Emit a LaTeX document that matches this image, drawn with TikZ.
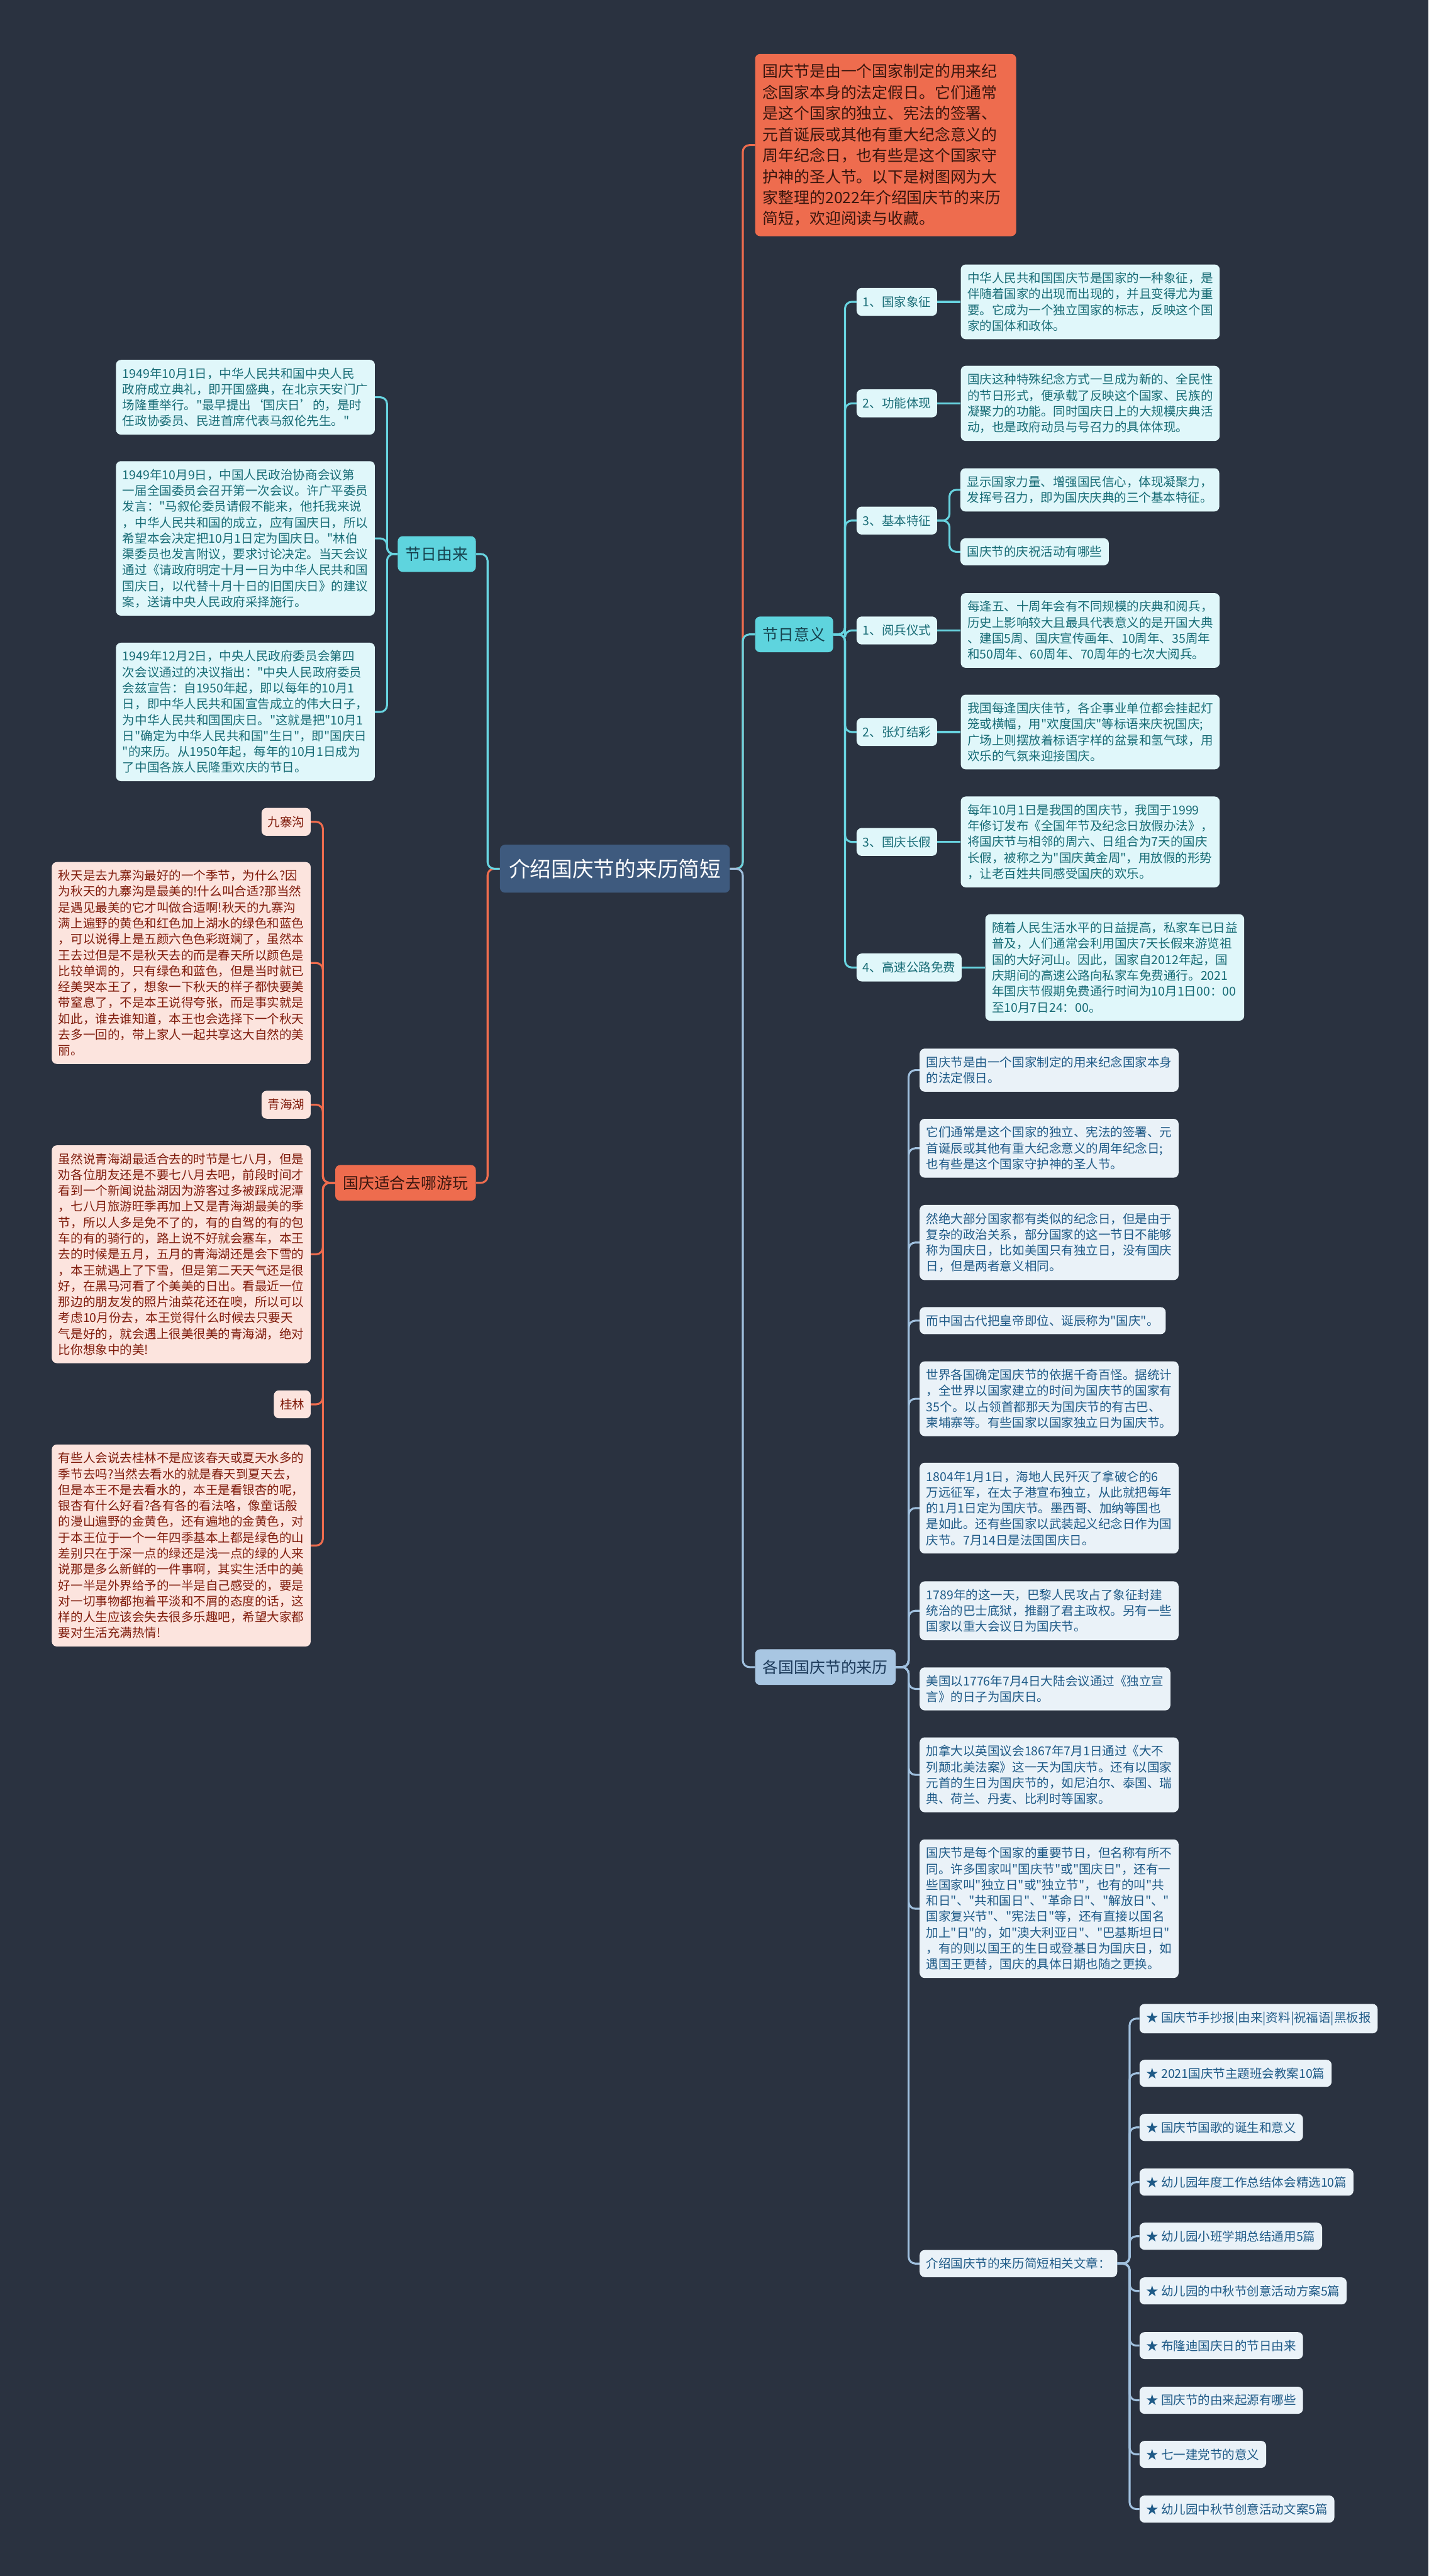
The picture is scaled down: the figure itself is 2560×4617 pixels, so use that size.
\documentclass[tikz,border=0pt]{standalone}
\usepackage{fontspec}
\setmainfont{Noto Sans CJK SC}[Ligatures=TeXOff]
\usetikzlibrary{positioning}
\definecolor{bgdark}{RGB}{42,50,64}
\definecolor{rootblue}{RGB}{62,90,126}
\definecolor{coral}{RGB}{238,108,78}
\definecolor{coraltext}{RGB}{58,22,14}
\definecolor{pinkbox}{RGB}{252,228,222}
\definecolor{pinktext}{RGB}{128,28,12}
\definecolor{cyanmain}{RGB}{94,212,222}
\definecolor{cyanline}{RGB}{104,212,224}
\definecolor{cyanbox}{RGB}{224,247,250}
\definecolor{cyantext}{RGB}{24,108,118}
\definecolor{cyandark}{RGB}{22,66,78}
\definecolor{bluemain}{RGB}{168,198,226}
\definecolor{blueline}{RGB}{160,192,222}
\definecolor{bluebox}{RGB}{234,242,248}
\definecolor{bluetext}{RGB}{30,90,135}
\definecolor{bluedark}{RGB}{28,58,90}

\begin{document}
\begin{tikzpicture}[x=1pt,y=-1pt,every node/.style={font=\fontsize{22}{28.5}\selectfont}]
\tikzstyle{box}=[rounded corners=9pt,align=left,inner xsep=12pt,inner ysep=14pt]
\tikzstyle{tag}=[rounded corners=9pt,minimum height=50pt,inner xsep=11pt,inner ysep=0pt]
\tikzstyle{topic}=[rounded corners=9pt,minimum height=64pt,inner xsep=14pt,inner ysep=0pt,font=\fontsize{28}{34}\selectfont]
\tikzstyle{cbox}=[box,fill=cyanbox,text=cyantext]
\tikzstyle{ctag}=[tag,fill=cyanbox,text=cyantext]
\tikzstyle{pbox}=[box,fill=pinkbox,text=pinktext]
\tikzstyle{ptag}=[tag,fill=pinkbox,text=pinktext]
\tikzstyle{bbox}=[box,fill=bluebox,text=bluetext]
\tikzstyle{cyanlink}=[draw=cyanline,line width=3.5pt,rounded corners=12pt]
\tikzstyle{corallink}=[draw=coral,line width=3.5pt,rounded corners=12pt]
\tikzstyle{bluelink}=[draw=blueline,line width=3.5pt,rounded corners=12pt]

\fill[bgdark] (0,0) rectangle (2560,4617);
\useasboundingbox (0,0) rectangle (2560,4617);

\node[fill=rootblue,text=white,rounded corners=9pt,minimum height=86pt,inner xsep=16pt,font=\fontsize{38}{44}\selectfont] (root) at (1102,1557) {介绍国庆节的来历简短};

\node[box,fill=coral,text=coraltext,anchor=west,text width=440pt,inner xsep=14pt,inner ysep=18pt,font=\fontsize{28}{37.7}\selectfont] (intro) at (1353,260) {国庆节是由一个国家制定的用来纪\\念国家本身的法定假日。它们通常\\是这个国家的独立、宪法的签署、\\元首诞辰或其他有重大纪念意义的\\周年纪念日，也有些是这个国家守\\护神的圣人节。以下是树图网为大\\家整理的2022年介绍国庆节的来历\\简短，欢迎阅读与收藏。};

\node[topic,fill=cyanmain,text=cyandark,anchor=west] (yiyi) at (1353,1137) {节日意义};
\node[topic,fill=bluemain,text=bluedark,anchor=west] (gege) at (1353,2988) {各国国庆节的来历};
\node[topic,fill=cyanmain,text=cyandark,anchor=east] (youlai) at (853,993) {节日由来};
\node[topic,fill=coral,text=coraltext,anchor=east] (youwan) at (853,2120) {国庆适合去哪游玩};

\node[ctag,anchor=west] (xz) at (1535,541) {1、国家象征};
\node[cbox,right=42pt of xz] (xzt) {中华人民共和国国庆节是国家的一种象征，是\\伴随着国家的出现而出现的，并且变得尤为重\\要。它成为一个独立国家的标志，反映这个国\\家的国体和政体。};
\node[ctag,anchor=west] (gn) at (1535,723) {2、功能体现};
\node[cbox,right=42pt of gn] (gnt) {国庆这种特殊纪念方式一旦成为新的、全民性\\的节日形式，便承载了反映这个国家、民族的\\凝聚力的功能。同时国庆日上的大规模庆典活\\动，也是政府动员与号召力的具体体现。};
\node[ctag,anchor=west] (tz) at (1535,933) {3、基本特征};
\node[cbox,anchor=west] (tza) at (1721,878) {显示国家力量、增强国民信心，体现凝聚力，\\发挥号召力，即为国庆庆典的三个基本特征。};
\node[cbox,anchor=west] (tzb) at (1721,989) {国庆节的庆祝活动有哪些};
\node[ctag,anchor=west] (yb) at (1535,1130) {1、阅兵仪式};
\node[cbox,right=42pt of yb] (ybt) {每逢五、十周年会有不同规模的庆典和阅兵，\\历史上影响较大且最具代表意义的是开国大典\\、建国5周、国庆宣传画年、10周年、35周年\\和50周年、60周年、70周年的七次大阅兵。};
\node[ctag,anchor=west] (zd) at (1535,1312) {2、张灯结彩};
\node[cbox,right=42pt of zd] (zdt) {我国每逢国庆佳节，各企事业单位都会挂起灯\\笼或横幅，用"欢度国庆"等标语来庆祝国庆;\\广场上则摆放着标语字样的盆景和氢气球，用\\欢乐的气氛来迎接国庆。};
\node[ctag,anchor=west] (cj) at (1535,1509) {3、国庆长假};
\node[cbox,right=42pt of cj] (cjt) {每年10月1日是我国的国庆节，我国于1999\\年修订发布《全国年节及纪念日放假办法》，\\将国庆节与相邻的周六、日组合为7天的国庆\\长假，被称之为"国庆黄金周"，用放假的形势\\，让老百姓共同感受国庆的欢乐。};
\node[ctag,anchor=west] (gs) at (1535,1734) {4、高速公路免费};
\node[cbox,right=42pt of gs] (gst) {随着人民生活水平的日益提高，私家车已日益\\普及，人们通常会利用国庆7天长假来游览祖\\国的大好河山。因此，国家自2012年起，国\\庆期间的高速公路向私家车免费通行。2021\\年国庆节假期免费通行时间为10月1日00：00\\至10月7日24：00。};

\node[cbox,anchor=east] (ly1) at (672,712) {1949年10月1日，中华人民共和国中央人民\\政府成立典礼，即开国盛典，在北京天安门广\\场隆重举行。"最早提出‘国庆日’的，是时\\任政协委员、民进首席代表马叙伦先生。"};
\node[cbox,anchor=east] (ly2) at (672,965) {1949年10月9日，中国人民政治协商会议第\\一届全国委员会召开第一次会议。许广平委员\\发言："马叙伦委员请假不能来，他托我来说\\，中华人民共和国的成立，应有国庆日，所以\\希望本会决定把10月1日定为国庆日。"林伯\\渠委员也发言附议，要求讨论决定。当天会议\\通过《请政府明定十月一日为中华人民共和国\\国庆日，以代替十月十日的旧国庆日》的建议\\案，送请中央人民政府采择施行。};
\node[cbox,anchor=east] (ly3) at (672,1276) {1949年12月2日，中央人民政府委员会第四\\次会议通过的决议指出："中央人民政府委员\\会兹宣告：自1950年起，即以每年的10月1\\日，即中华人民共和国宣告成立的伟大日子，\\为中华人民共和国国庆日。"这就是把"10月1\\日"确定为中华人民共和国"生日"，即"国庆日\\"的来历。从1950年起，每年的10月1日成为\\了中国各族人民隆重欢庆的节日。};

\node[ptag,anchor=east] (jzg) at (557,1473) {九寨沟};
\node[pbox,anchor=east] (jzgt) at (557,1726) {秋天是去九寨沟最好的一个季节，为什么?因\\为秋天的九寨沟是最美的!什么叫合适?那当然\\是遇见最美的它才叫做合适啊!秋天的九寨沟\\满上遍野的黄色和红色加上湖水的绿色和蓝色\\，可以说得上是五颜六色色彩斑斓了，虽然本\\王去过但是不是秋天去的而是春天所以颜色是\\比较单调的，只有绿色和蓝色，但是当时就已\\经美哭本王了，想象一下秋天的样子都快要美\\带窒息了，不是本王说得夸张，而是事实就是\\如此，谁去谁知道，本王也会选择下一个秋天\\去多一回的，带上家人一起共享这大自然的美\\丽。};
\node[ptag,anchor=east] (qhh) at (557,1980) {青海湖};
\node[pbox,anchor=east] (qhht) at (557,2248) {虽然说青海湖最适合去的时节是七八月，但是\\劝各位朋友还是不要七八月去吧，前段时间才\\看到一个新闻说盐湖因为游客过多被踩成泥潭\\，七八月旅游旺季再加上又是青海湖最美的季\\节，所以人多是免不了的，有的自驾的有的包\\车的有的骑行的，路上说不好就会塞车，本王\\去的时候是五月，五月的青海湖还是会下雪的\\，本王就遇上了下雪，但是第二天天气还是很\\好，在黑马河看了个美美的日出。看最近一位\\那边的朋友发的照片油菜花还在噢，所以可以\\考虑10月份去，本王觉得什么时候去只要天\\气是好的，就会遇上很美很美的青海湖，绝对\\比你想象中的美!};
\node[ptag,anchor=east] (gl) at (557,2517) {桂林};
\node[pbox,anchor=east] (glt) at (557,2770) {有些人会说去桂林不是应该春天或夏天水多的\\季节去吗?当然去看水的就是春天到夏天去，\\但是本王不是去看水的，本王是看银杏的呢，\\银杏有什么好看?各有各的看法咯，像童话般\\的漫山遍野的金黄色，还有遍地的金黄色，对\\于本王位于一个一年四季基本上都是绿色的山\\差别只在于深一点的绿还是浅一点的绿的人来\\说那是多么新鲜的一件事啊，其实生活中的美\\好一半是外界给予的一半是自己感受的，要是\\对一切事物都抱着平淡和不屑的态度的话，这\\样的人生应该会失去很多乐趣吧，希望大家都\\要对生活充满热情!};

\node[bbox,anchor=west] (g1) at (1648,1918) {国庆节是由一个国家制定的用来纪念国家本身\\的法定假日。};
\node[bbox,anchor=west] (g2) at (1648,2058) {它们通常是这个国家的独立、宪法的签署、元\\首诞辰或其他有重大纪念意义的周年纪念日;\\也有些是这个国家守护神的圣人节。};
\node[bbox,anchor=west] (g3) at (1648,2227) {然绝大部分国家都有类似的纪念日，但是由于\\复杂的政治关系，部分国家的这一节日不能够\\称为国庆日，比如美国只有独立日，没有国庆\\日，但是两者意义相同。};
\node[bbox,anchor=west] (g4) at (1648,2367) {而中国古代把皇帝即位、诞辰称为"国庆"。};
\node[bbox,anchor=west] (g5) at (1648,2507) {世界各国确定国庆节的依据千奇百怪。据统计\\，全世界以国家建立的时间为国庆节的国家有\\35个。以占领首都那天为国庆节的有古巴、\\柬埔寨等。有些国家以国家独立日为国庆节。};
\node[bbox,anchor=west] (g6) at (1648,2703) {1804年1月1日，海地人民歼灭了拿破仑的6\\万远征军，在太子港宣布独立，从此就把每年\\的1月1日定为国庆节。墨西哥、加纳等国也\\是如此。还有些国家以武装起义纪念日作为国\\庆节。7月14日是法国国庆日。};
\node[bbox,anchor=west] (g7) at (1648,2887) {1789年的这一天，巴黎人民攻占了象征封建\\统治的巴士底狱，推翻了君主政权。另有一些\\国家以重大会议日为国庆节。};
\node[bbox,anchor=west] (g8) at (1648,3027) {美国以1776年7月4日大陆会议通过《独立宣\\言》的日子为国庆日。};
\node[bbox,anchor=west] (g9) at (1648,3181) {加拿大以英国议会1867年7月1日通过《大不\\列颠北美法案》这一天为国庆节。还有以国家\\元首的生日为国庆节的，如尼泊尔、泰国、瑞\\典、荷兰、丹麦、比利时等国家。};
\node[bbox,anchor=west] (g10) at (1648,3421) {国庆节是每个国家的重要节日，但名称有所不\\同。许多国家叫"国庆节"或"国庆日"，还有一\\些国家叫"独立日"或"独立节"，也有的叫"共\\和日"、"共和国日"、"革命日"、"解放日"、"\\国家复兴节"、"宪法日"等，还有直接以国名\\加上"日"的，如"澳大利亚日"、"巴基斯坦日"\\，有的则以国王的生日或登基日为国庆日，如\\遇国王更替，国庆的具体日期也随之更换。};
\node[bbox,anchor=west] (g11) at (1648,4057) {介绍国庆节的来历简短相关文章：};

\node[bbox,anchor=west] (s1) at (2042,3618) {★ 国庆节手抄报|由来|资料|祝福语|黑板报};
\node[bbox,anchor=west] (s2) at (2042,3716) {★ 2021国庆节主题班会教案10篇};
\node[bbox,anchor=west] (s3) at (2042,3813) {★ 国庆节国歌的诞生和意义};
\node[bbox,anchor=west] (s4) at (2042,3911) {★ 幼儿园年度工作总结体会精选10篇};
\node[bbox,anchor=west] (s5) at (2042,4008) {★ 幼儿园小班学期总结通用5篇};
\node[bbox,anchor=west] (s6) at (2042,4106) {★ 幼儿园的中秋节创意活动方案5篇};
\node[bbox,anchor=west] (s7) at (2042,4204) {★ 布隆迪国庆日的节日由来};
\node[bbox,anchor=west] (s8) at (2042,4302) {★ 国庆节的由来起源有哪些};
\node[bbox,anchor=west] (s9) at (2042,4399) {★ 七一建党节的意义};
\node[bbox,anchor=west] (s10) at (2042,4497) {★ 幼儿园中秋节创意活动文案5篇};

\draw[corallink] (root.east) -- ++(23,0) |- (intro.west);
\draw[cyanlink] (root.east) -- ++(23,0) |- (yiyi.west);
\draw[bluelink] (root.east) -- ++(23,0) |- (gege.west);
\draw[corallink] (root.west) -- ++(-22,0) |- (youwan.east);
\draw[cyanlink] (root.west) -- ++(-22,0) |- (youlai.east);

\draw[cyanlink] (yiyi.east) -- ++(21,0) |- (xz.west);
\draw[cyanlink] (yiyi.east) -- ++(21,0) |- (gn.west);
\draw[cyanlink] (yiyi.east) -- ++(21,0) |- (tz.west);
\draw[cyanlink] (yiyi.east) -- ++(21,0) |- (yb.west);
\draw[cyanlink] (yiyi.east) -- ++(21,0) |- (zd.west);
\draw[cyanlink] (yiyi.east) -- ++(21,0) |- (cj.west);
\draw[cyanlink] (yiyi.east) -- ++(21,0) |- (gs.west);
\draw[cyanlink] (xz) -- (xzt);
\draw[cyanlink] (gn) -- (gnt);
\draw[cyanlink] (tz.east) -- ++(22,0) |- (tza.west);
\draw[cyanlink] (tz.east) -- ++(22,0) |- (tzb.west);
\draw[cyanlink] (yb) -- (ybt);
\draw[cyanlink] (zd) -- (zdt);
\draw[cyanlink] (cj) -- (cjt);
\draw[cyanlink] (gs) -- (gst);

\draw[cyanlink] (youlai.west) -- ++(-19,0) |- (ly1.east);
\draw[cyanlink] (youlai.west) -- ++(-19,0) |- (ly2.east);
\draw[cyanlink] (youlai.west) -- ++(-19,0) |- (ly3.east);

\draw[corallink] (youwan.west) -- ++(-22,0) |- (jzg.east);
\draw[corallink] (youwan.west) -- ++(-22,0) |- (jzgt.east);
\draw[corallink] (youwan.west) -- ++(-22,0) |- (qhh.east);
\draw[corallink] (youwan.west) -- ++(-22,0) |- (qhht.east);
\draw[corallink] (youwan.west) -- ++(-22,0) |- (gl.east);
\draw[corallink] (youwan.west) -- ++(-22,0) |- (glt.east);

\draw[bluelink] (gege.east) -- ++(23,0) |- (g1.west);
\draw[bluelink] (gege.east) -- ++(23,0) |- (g2.west);
\draw[bluelink] (gege.east) -- ++(23,0) |- (g3.west);
\draw[bluelink] (gege.east) -- ++(23,0) |- (g4.west);
\draw[bluelink] (gege.east) -- ++(23,0) |- (g5.west);
\draw[bluelink] (gege.east) -- ++(23,0) |- (g6.west);
\draw[bluelink] (gege.east) -- ++(23,0) |- (g7.west);
\draw[bluelink] (gege.east) -- ++(23,0) |- (g8.west);
\draw[bluelink] (gege.east) -- ++(23,0) |- (g9.west);
\draw[bluelink] (gege.east) -- ++(23,0) |- (g10.west);
\draw[bluelink] (gege.east) -- ++(23,0) |- (g11.west);

\draw[bluelink] (g11.east) -- ++(22,0) |- (s1.west);
\draw[bluelink] (g11.east) -- ++(22,0) |- (s2.west);
\draw[bluelink] (g11.east) -- ++(22,0) |- (s3.west);
\draw[bluelink] (g11.east) -- ++(22,0) |- (s4.west);
\draw[bluelink] (g11.east) -- ++(22,0) |- (s5.west);
\draw[bluelink] (g11.east) -- ++(22,0) |- (s6.west);
\draw[bluelink] (g11.east) -- ++(22,0) |- (s7.west);
\draw[bluelink] (g11.east) -- ++(22,0) |- (s8.west);
\draw[bluelink] (g11.east) -- ++(22,0) |- (s9.west);
\draw[bluelink] (g11.east) -- ++(22,0) |- (s10.west);
\end{tikzpicture}
\end{document}
